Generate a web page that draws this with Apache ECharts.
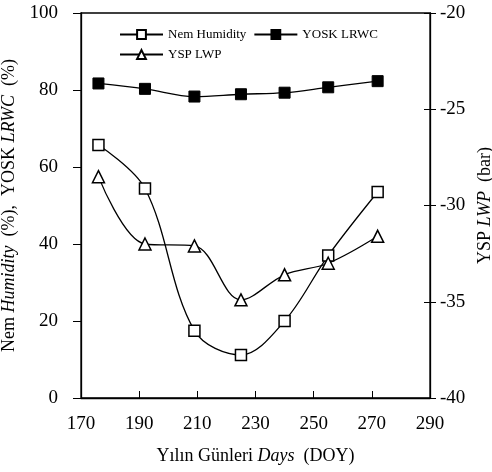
<!DOCTYPE html>
<html lang="tr">
<head>
<meta charset="UTF-8">
<title>Nem / YOSK / YSP</title>
<script src="https://cdn.jsdelivr.net/npm/echarts@6/dist/echarts.min.js"></script>
<style>
  body { margin: 0; background: #fff; }
  #main { width: 492px; height: 472px; }
</style>
</head>
<body>
<div id="main"></div>
<script type="text/javascript">
  // gunler (DOY)
  const days = [176, 192, 209, 225, 240, 255, 272];
  // sol eksen (%)
  const nemHumidity = [65.7, 54.4, 17.5, 11.2, 20.0, 37.0, 53.5];
  const yoskLrwc = [81.7, 80.3, 78.3, 78.9, 79.3, 80.7, 82.3];
  // sag eksen (bar)
  const yspLwp = [-28.5, -32.0, -32.1, -34.9, -33.6, -33.0, -31.6];

  const xTicks = [170, 190, 210, 230, 250, 270, 290];
  const leftTicks = [0, 20, 40, 60, 80, 100];
  const rightTicks = [-40, -35, -30, -25, -20];

  const font = 'Liberation Serif';
  const pair = (arr) => days.map((d, i) => [d, arr[i]]);

  var chart = echarts.init(document.getElementById('main'));

  const lineStyle = { color: '#000', width: 1.3 };

  option = {
    animation: false,
    textStyle: { fontFamily: font, color: '#000' },
    grid: {
      left: 81, right: 62, top: 13, bottom: 74,
      outerBoundsMode: 'none',
      show: true, borderColor: '#000', borderWidth: 1.3
    },
    legend: {
      left: 114, top: 23, width: 280,
      itemWidth: 43, itemHeight: 11, itemGap: 7,
      textStyle: { fontFamily: font, fontSize: 13, color: '#000' },
      data: ['Nem Humidity', 'YOSK LRWC', 'YSP LWP']
    },
    xAxis: {
      type: 'value',
      min: xTicks[0], max: xTicks[xTicks.length - 1], interval: 20,
      name: '{n|Yılın Günleri }{i|Days}{n|  (DOY)}',
      nameLocation: 'middle', nameGap: 49,
      nameTextStyle: {
        rich: {
          n: { fontFamily: font, fontSize: 18, color: '#000' },
          i: { fontFamily: font, fontSize: 18, fontStyle: 'italic', color: '#000' }
        }
      },
      axisLine: { lineStyle: { color: '#000', width: 1.3 } },
      axisTick: { inside: true, length: 7, lineStyle: { color: '#000' } },
      axisLabel: { fontFamily: font, fontSize: 19, color: '#000', margin: 17 },
      splitLine: { show: false }
    },
    yAxis: [
      {
        type: 'value', position: 'left',
        min: leftTicks[0], max: leftTicks[leftTicks.length - 1], interval: 20,
        name: '{n|Nem }{i|Humidity}{n|  (%),  YOSK }{i|LRWC}{n|  (%)}',
        nameLocation: 'middle', nameGap: 42, nameRotate: 90,
        nameTextStyle: {
          rich: {
            n: { fontFamily: font, fontSize: 18, color: '#000' },
            i: { fontFamily: font, fontSize: 18, fontStyle: 'italic', color: '#000' }
          }
        },
        axisLine: { show: true, lineStyle: { color: '#000', width: 1.3 } },
        axisTick: { show: true, length: 8, lineStyle: { color: '#000' } },
        axisLabel: { fontFamily: font, fontSize: 19, color: '#000', margin: 23 },
        splitLine: { show: false }
      },
      {
        type: 'value', position: 'right',
        min: rightTicks[0], max: rightTicks[rightTicks.length - 1], interval: 5,
        name: '{n|YSP }{i|LWP}{n|  (bar)}',
        nameLocation: 'middle', nameGap: 44, nameRotate: 90,
        nameTextStyle: {
          rich: {
            n: { fontFamily: font, fontSize: 18, color: '#000' },
            i: { fontFamily: font, fontSize: 18, fontStyle: 'italic', color: '#000' }
          }
        },
        axisLine: { show: true, lineStyle: { color: '#000', width: 1.3 } },
        axisTick: { show: true, length: 6, lineStyle: { color: '#000' } },
        axisLabel: { fontFamily: font, fontSize: 19, color: '#000', margin: 10 },
        splitLine: { show: false }
      },
      {
        // sag eksenin ic tikleri
        type: 'value', position: 'right',
        min: rightTicks[0], max: rightTicks[rightTicks.length - 1], interval: 5,
        axisLine: { show: false },
        axisTick: { show: true, inside: true, length: 6, lineStyle: { color: '#000' } },
        axisLabel: { show: false },
        splitLine: { show: false }
      }
    ],
    series: [
      {
        name: 'Nem Humidity', type: 'line', yAxisIndex: 0,
        data: pair(nemHumidity), smooth: 0.35,
        symbol: 'rect', symbolSize: 11,
        itemStyle: { color: '#fff', borderColor: '#000', borderWidth: 1.5 },
        lineStyle: lineStyle
      },
      {
        name: 'YOSK LRWC', type: 'line', yAxisIndex: 0,
        data: pair(yoskLrwc), smooth: 0.35,
        symbol: 'rect', symbolSize: 11,
        itemStyle: { color: '#000', borderColor: '#000', borderWidth: 1 },
        lineStyle: lineStyle
      },
      {
        name: 'YSP LWP', type: 'line', yAxisIndex: 1,
        data: pair(yspLwp), smooth: 0.35,
        symbol: 'triangle', symbolSize: 12,
        itemStyle: { color: '#fff', borderColor: '#000', borderWidth: 1.5 },
        lineStyle: lineStyle
      }
    ]
  };
  chart.setOption(option);
</script>
</body>
</html>
